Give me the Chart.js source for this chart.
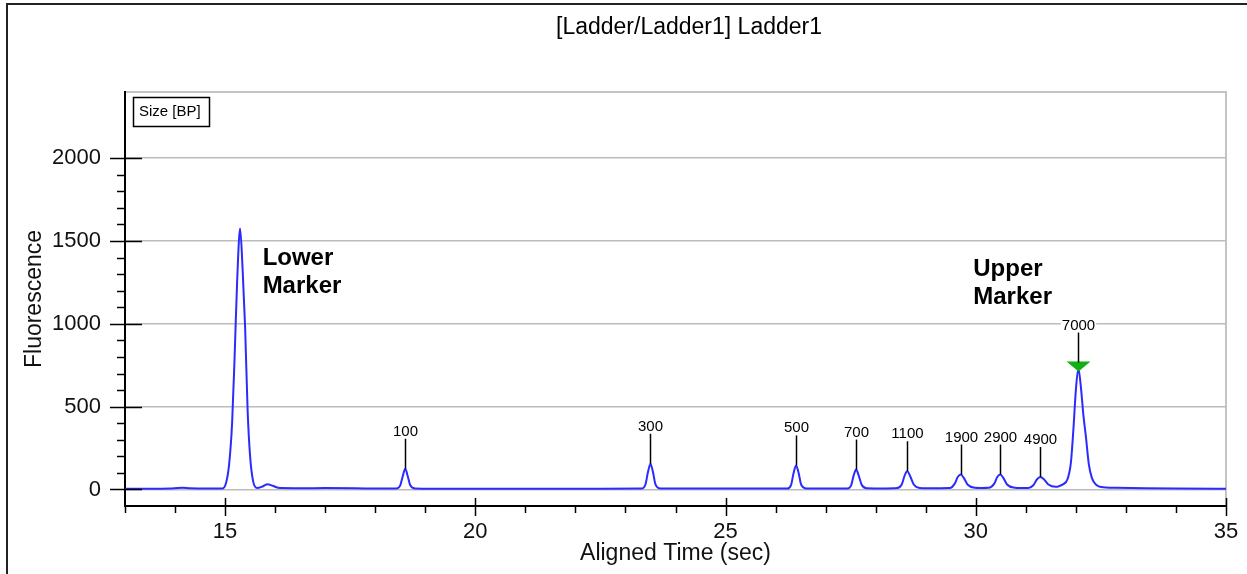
<!DOCTYPE html>
<html>
<head>
<meta charset="utf-8">
<title>[Ladder/Ladder1] Ladder1</title>
<script src="https://cdn.jsdelivr.net/npm/chart.js@4.4.1/dist/chart.umd.min.js"></script>
<style>
  html, body { margin: 0; padding: 0; background: #fff; }
  #wrap { position: relative; width: 1247px; height: 574px; overflow: hidden; }
  #frame { position: absolute; left: 6px; top: 3px; width: 1400px; height: 800px;
           border-left: 2px solid #222; border-top: 2px solid #222; }
  #ladderChart { position: absolute; left: 0; top: 0; }
</style>
</head>
<body>
<div id="wrap">
  <div id="frame"></div>
  <canvas id="ladderChart" width="1247" height="574"></canvas>
</div>
<script>
const chartTitle = "[Ladder/Ladder1] Ladder1";

// electropherogram trace (time in sec, fluorescence)
const times = [
  13.0, 13.5, 13.9, 14.05, 14.15, 14.3, 14.6, 14.95,
  15.02, 15.08, 15.14, 15.19, 15.24, 15.3, 15.35, 15.4, 15.45, 15.5, 15.56, 15.64,
  15.75, 15.85, 15.95, 16.1, 16.5, 17.0, 17.6, 18.1,
  18.42, 18.5, 18.55, 18.6, 18.65, 18.7, 18.8,
  19.5, 20.5, 21.5, 22.5, 23.32, 23.4, 23.45, 23.5, 23.55, 23.6, 23.7,
  24.5, 25.5, 26.23, 26.31, 26.36, 26.41, 26.46, 26.51, 26.62,
  27.0, 27.43, 27.51, 27.56, 27.61, 27.66, 27.72, 27.82,
  28.2, 28.43, 28.52, 28.58, 28.63, 28.69, 28.76, 28.88,
  29.2, 29.48, 29.58, 29.64, 29.7, 29.76, 29.84, 29.98,
  30.1, 30.26, 30.37, 30.43, 30.49, 30.55, 30.63, 30.78,
  30.9, 31.05, 31.15, 31.22, 31.29, 31.36, 31.45, 31.6,
  31.65, 31.75, 31.83, 31.9, 31.95, 32.0, 32.05, 32.1, 32.15, 32.2, 32.26, 32.32, 32.4, 32.5,
  32.8, 33.4, 34.0, 35.0
];
const fluorescence = [
  4, 4, 5, 9, 10, 7, 5, 6,
  40, 150, 400, 800, 1250, 1575, 1330, 980, 480, 200, 50, 8,
  18, 32, 22, 8, 7, 8, 7, 5,
  6, 25, 80, 125, 80, 25, 6,
  4, 4, 4, 4, 5, 30, 105, 155, 105, 30, 5,
  5, 5, 5, 28, 100, 145, 100, 30, 6,
  5, 6, 25, 85, 120, 85, 28, 7,
  6, 8, 30, 85, 110, 80, 30, 9,
  7, 8, 35, 75, 90, 70, 28, 10,
  9, 10, 35, 75, 90, 70, 28, 10,
  8, 9, 25, 60, 75, 62, 30, 16,
  18, 32, 60, 160, 360, 600, 730, 620, 450, 320, 150, 70, 30, 15,
  10, 7, 5, 4
];

// ladder size calls (bp) and the peak times they sit on
const sizeLabels = ["100", "300", "500", "700", "1100", "1900", "2900", "4900", "7000"];
const sizeTimes = [18.6, 23.5, 26.41, 27.61, 28.63, 29.7, 30.49, 31.29, 32.05];

const xTicks = [13, 14, 15, 16, 17, 18, 19, 20, 21, 22, 23, 24, 25, 26, 27, 28, 29, 30, 31, 32, 33, 34, 35];
const xLabels = [15, 20, 25, 30, 35];
const yTicks = [0, 100, 200, 300, 400, 500, 600, 700, 800, 900, 1000, 1100, 1200, 1300, 1400,
  1500, 1600, 1700, 1800, 1900, 2000];
const yLabels = [0, 500, 1000, 1500, 2000];

const FONT = '"Liberation Sans", Arial, sans-serif';

const ladderDecor = {
  id: "ladderDecor",
  beforeDraw(chart) {
    const { ctx, chartArea: a } = chart;
    ctx.save();
    // light grey top and right sides of the plot box
    ctx.strokeStyle = "#c4c4c4";
    ctx.lineWidth = 2;
    ctx.beginPath();
    ctx.moveTo(a.left, a.top);
    ctx.lineTo(a.right, a.top);
    ctx.lineTo(a.right, a.bottom);
    ctx.stroke();

    ctx.fillStyle = "#000";
    ctx.font = "23px " + FONT;
    ctx.textAlign = "center";
    ctx.textBaseline = "middle";
    ctx.fillText(chartTitle, 689, 28);
    ctx.restore();
  },

  afterDatasetsDraw(chart) {
    const { ctx, scales: { x, y } } = chart;
    ctx.save();
    ctx.font = "15px " + FONT;
    ctx.textAlign = "center";
    ctx.textBaseline = "alphabetic";
    sizeLabels.forEach((label, i) => {
      const idx = times.indexOf(sizeTimes[i]);
      const px = Math.round(x.getPixelForValue(sizeTimes[i])) + 0.5;
      const py = y.getPixelForValue(fluorescence[idx]);
      const isUpper = i === sizeLabels.length - 1;
      const lineBottom = isUpper ? py - 6 : py;
      const lineTop = isUpper ? py - 36 : py - 30;

      if (isUpper) {
        // green marker triangle on the upper marker peak
        ctx.fillStyle = "#12b012";
        ctx.beginPath();
        ctx.moveTo(px - 12, py - 7);
        ctx.lineTo(px + 12, py - 7);
        ctx.lineTo(px, py + 3);
        ctx.closePath();
        ctx.fill();
      }

      ctx.strokeStyle = "#000";
      ctx.lineWidth = 1.5;
      ctx.beginPath();
      ctx.moveTo(px, lineBottom);
      ctx.lineTo(px, lineTop);
      ctx.stroke();

      const w = ctx.measureText(label).width;
      ctx.fillStyle = "#fff";
      ctx.fillRect(px - w / 2 - 1, lineTop - 15, w + 2, 13);
      ctx.fillStyle = "#000";
      ctx.fillText(label, px, lineTop - 3);
    });
    ctx.restore();
  },

  afterDraw(chart) {
    const { ctx, chartArea: a, scales: { x, y } } = chart;
    ctx.save();
    ctx.strokeStyle = "#000";
    ctx.lineWidth = 1.5;

    // tick marks: long ones cross the axis at labelled values
    yTicks.forEach(v => {
      const py = Math.round(y.getPixelForValue(v)) + 0.5;
      const major = yLabels.includes(v);
      ctx.beginPath();
      ctx.moveTo(a.left - (major ? 15 : 8), py);
      ctx.lineTo(a.left + (major ? 17 : 0), py);
      ctx.stroke();
    });
    xTicks.forEach(v => {
      const px = Math.round(x.getPixelForValue(v)) + 0.5;
      const major = xLabels.includes(v);
      ctx.beginPath();
      ctx.moveTo(px, a.bottom - (major ? 8 : 0));
      ctx.lineTo(px, a.bottom + (major ? 10 : 7));
      ctx.stroke();
    });

    // "Size [BP]" box
    ctx.lineWidth = 1.5;
    ctx.strokeRect(133.5, 97.5, 76, 29);
    ctx.fillStyle = "#000";
    ctx.font = "15px " + FONT;
    ctx.textAlign = "left";
    ctx.textBaseline = "middle";
    ctx.fillText("Size [BP]", 139, 112);

    // marker notes
    ctx.font = "bold 24px " + FONT;
    ctx.textBaseline = "alphabetic";
    const lowX = x.getPixelForValue(15.75);
    const lowY = y.getPixelForValue(1357);
    ctx.fillText("Lower", lowX, lowY);
    ctx.fillText("Marker", lowX, lowY + 28);
    const upX = x.getPixelForValue(29.95);
    const upY = y.getPixelForValue(1290);
    ctx.fillText("Upper", upX, upY);
    ctx.fillText("Marker", upX, upY + 28);
    ctx.restore();
  }
};

new Chart(document.getElementById("ladderChart"), {
  type: "line",
  data: {
    datasets: [
      {
        label: "Ladder1",
        data: times.map((t, i) => ({ x: t, y: fluorescence[i] })),
        borderColor: "#2b2bff",
        borderWidth: 2,
        pointRadius: 0,
        fill: false,
        cubicInterpolationMode: "monotone"
      }
    ]
  },
  options: {
    responsive: false,
    animation: false,
    events: [],
    layout: { padding: { top: 92, right: 21, left: 0, bottom: 0 } },
    plugins: {
      legend: { display: false },
      tooltip: { enabled: false }
    },
    scales: {
      x: {
        type: "linear",
        min: 13,
        max: 35,
        afterBuildTicks: s => { s.ticks = xTicks.map(v => ({ value: v })); },
        afterFit: s => { s.height = 68; s.paddingLeft = 0; s.paddingRight = 0; },
        ticks: {
          autoSkip: false,
          maxRotation: 0,
          padding: 13,
          color: "#111",
          font: { family: FONT, size: 22 },
          callback: v => (xLabels.includes(v) ? String(v) : "")
        },
        grid: { drawOnChartArea: false, drawTicks: false },
        border: { color: "#000", width: 2 },
        title: {
          display: true,
          text: "Aligned Time (sec)",
          color: "#111",
          font: { family: FONT, size: 23 },
          padding: { top: 0, bottom: 7 }
        }
      },
      y: {
        min: -100,
        max: 2400,
        afterBuildTicks: s => { s.ticks = yTicks.map(v => ({ value: v })); },
        afterFit: s => { s.width = 125; s.paddingTop = 0; s.paddingBottom = 0; },
        ticks: {
          autoSkip: false,
          padding: 24,
          color: "#111",
          font: { family: FONT, size: 22 },
          callback: v => (yLabels.includes(v) ? String(v) : "")
        },
        grid: {
          drawTicks: false,
          lineWidth: 1.5,
          color: c => (c.tick && yLabels.includes(c.tick.value) ? "#bcbcbc" : "rgba(0,0,0,0)")
        },
        border: { color: "#000", width: 2 },
        title: {
          display: true,
          text: "Fluorescence",
          color: "#111",
          font: { family: FONT, size: 23 },
          padding: { top: 21, bottom: 0 }
        }
      }
    }
  },
  plugins: [ladderDecor]
});
</script>
</body>
</html>
